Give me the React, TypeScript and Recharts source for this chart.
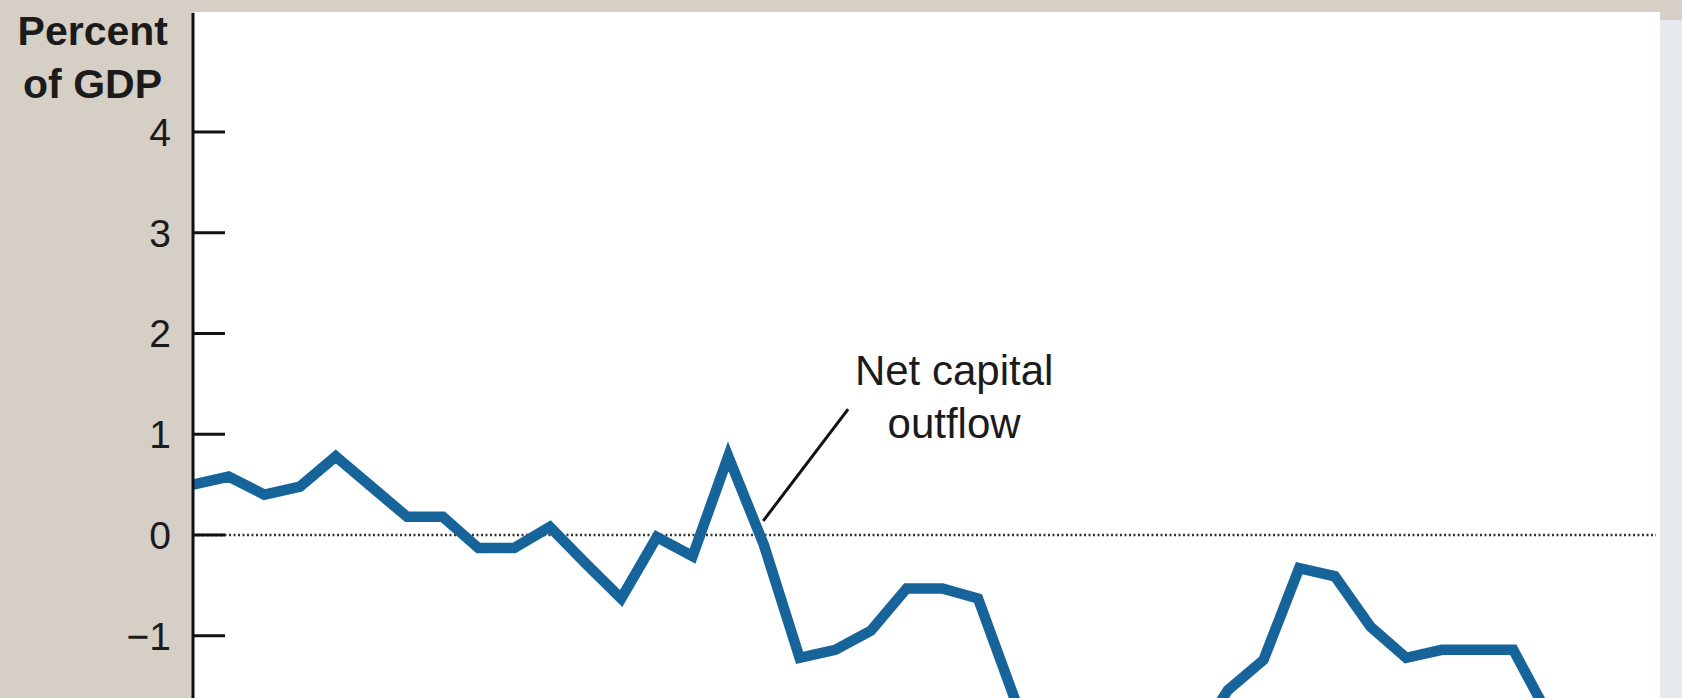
import React from "react";
import { LineChart, Line, XAxis, YAxis, ReferenceLine, ReferenceDot } from "recharts";

const years = [
  1960, 1961, 1962, 1963, 1964, 1965, 1966, 1967, 1968, 1969,
  1970, 1971, 1972, 1973, 1974, 1975, 1976, 1977, 1978, 1979,
  1980, 1981, 1982, 1983, 1984, 1985, 1986, 1987, 1988, 1989,
  1990, 1991, 1992, 1993, 1994, 1995, 1996, 1997, 1998, 1999,
  2000, 2001,
];

const netCapitalOutflow = [
  0.5, 0.58, 0.4, 0.48, 0.78, 0.48, 0.18, 0.18, -0.13, -0.13,
  0.08, -0.28, -0.63, -0.02, -0.21, 0.78, -0.1, -1.22, -1.14, -0.95,
  -0.53, -0.53, -0.63, -1.6, -2.5, -2.8, -3.1, -3.1, -2.1, -1.54,
  -1.24, -0.33, -0.41, -0.91, -1.22, -1.14, -1.14, -1.14, -1.8, -2.8,
  -3.9, -3.7,
];

const yTicks = [-1, 0, 1, 2, 3, 4];
const yDomain = [-1.618, 5.181];
const xDomain = [1960, 2001];
const axisTitle = ["Percent", "of GDP"];
const seriesLabel = ["Net capital", "outflow"];
const labelAnchor = { x: 1981.33, y: 1.489 };
const leaderSegment = [
  { x: 1975.98, y: 0.14 },
  { x: 1978.36, y: 1.25 },
];

const data = years.map((year, i) => ({ year, v: netCapitalOutflow[i] }));

const FONT = "'Liberation Sans', Arial, Helvetica, sans-serif";

const fmt = (v: number) => (v < 0 ? "\u2212" + Math.abs(v) : String(v));

const Tick = (props: any) => {
  const { x, y, payload } = props;
  return (
    <g>
      <line x1={x} x2={x + 32} y1={y} y2={y} stroke="#111" strokeWidth={3} />
      <text
        x={x - 22}
        y={y + 14}
        textAnchor="end"
        fontSize={39}
        fill="#1b1b1b"
        fontFamily={FONT}
      >
        {fmt(payload.value)}
      </text>
    </g>
  );
};

const SeriesLabel = (props: any) => {
  const vb = props.viewBox || {};
  const cx = vb.x + (vb.width || 0) / 2;
  const cy = vb.y + (vb.height || 0) / 2;
  return (
    <text x={cx} y={cy} textAnchor="middle" fontSize={42} fill="#1b1b1b" fontFamily={FONT}>
      <tspan x={cx} dy={0}>{seriesLabel[0]}</tspan>
      <tspan x={cx} dy={53}>{seriesLabel[1]}</tspan>
    </text>
  );
};

export default function App() {
  return (
    <div
      style={{
        position: "absolute",
        left: 0,
        top: 0,
        width: 1682,
        height: 698,
        background: "#d5cfc6",
        overflow: "hidden",
      }}
    >
      <div style={{ position: "absolute", left: 194, top: 12, width: 1466, height: 686, background: "#ffffff" }} />
      <div style={{ position: "absolute", left: 1660, top: 20, width: 22, height: 678, background: "#e6e9ee" }} />
      <svg
        width={1682}
        height={698}
        style={{ position: "absolute", left: 0, top: 0 }}
      >
        <text x={168} y={45} textAnchor="end" fontSize={41} fontWeight="bold" fill="#1b1b1b" fontFamily={FONT}>
          {axisTitle[0]}
        </text>
        <text x={162} y={98} textAnchor="end" fontSize={41} fontWeight="bold" fill="#1b1b1b" fontFamily={FONT}>
          {axisTitle[1]}
        </text>
      </svg>
      <div style={{ position: "absolute", left: 0, top: 0 }}>
        <LineChart
          width={1682}
          height={698}
          data={data}
          margin={{ top: 13, right: 26, bottom: 0, left: 0 }}
        >
          <XAxis dataKey="year" type="number" domain={xDomain} hide allowDataOverflow />
          <YAxis
            type="number"
            domain={yDomain}
            ticks={yTicks}
            allowDataOverflow
            interval={0}
            width={193}
            tickSize={0}
            tickMargin={0}
            tickLine={false}
            axisLine={{ stroke: "#111", strokeWidth: 3 }}
            tick={<Tick />}
          />
          <ReferenceLine y={0} stroke="#333" strokeWidth={2.5} strokeDasharray="2 2.5" />
          <ReferenceLine segment={leaderSegment} stroke="#111" strokeWidth={3} ifOverflow="visible" />
          <ReferenceDot
            x={labelAnchor.x}
            y={labelAnchor.y}
            r={0}
            fill="none"
            stroke="none"
            ifOverflow="visible"
            label={<SeriesLabel />}
          />
          <Line
            type="linear"
            dataKey="v"
            stroke="#17649b"
            strokeWidth={10.5}
            dot={false}
            activeDot={false}
            isAnimationActive={false}
          />
        </LineChart>
      </div>
    </div>
  );
}
